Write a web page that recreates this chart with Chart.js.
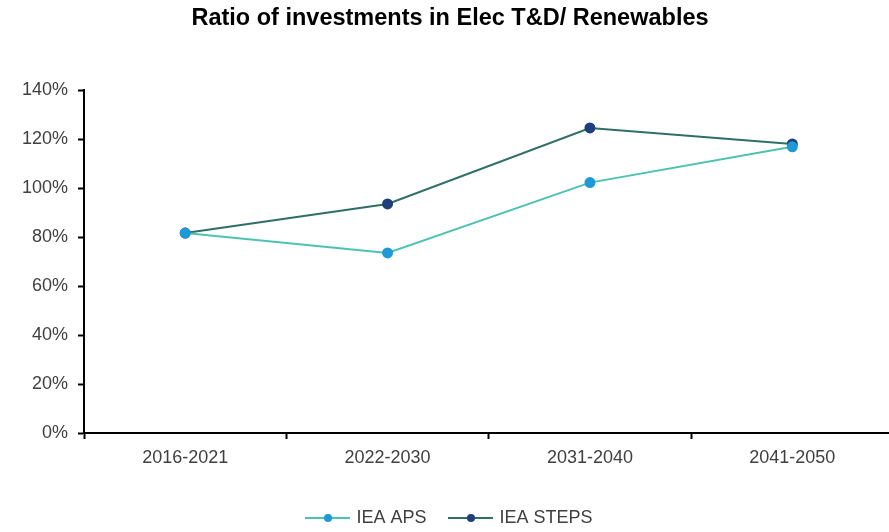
<!DOCTYPE html>
<html>
<head>
<meta charset="utf-8">
<script src="https://cdn.jsdelivr.net/npm/chart.js@4.4.1/dist/chart.umd.min.js"></script>
<style>
  html, body { margin: 0; padding: 0; background: #fff; overflow: hidden; }
  #wrap { width: 900px; height: 537px; }
</style>
</head>
<body>
<div id="wrap"><canvas id="ratioChart" width="900" height="537"></canvas></div>
<script>
const periods = ['2016-2021', '2022-2030', '2031-2040', '2041-2050'];
const apsRatio = [81.6, 73.5, 102.2, 116.8];
const stepsRatio = [81.6, 93.5, 124.5, 118.0];
const yTicks = [0, 20, 40, 60, 80, 100, 120, 140];

const apsLine = '#4cc3b1', apsDot = '#1f9ad6';
const stepsLine = '#2f6f68', stepsDot = '#1f3f7c';
const labelFont = { family: 'Liberation Sans', size: 18 };

// small line + dot swatch for the legend
function swatch(lineColor, dotColor) {
    const c = document.createElement('canvas');
    c.width = 45; c.height = 10;
    const g = c.getContext('2d');
    g.strokeStyle = lineColor; g.lineWidth = 2;
    g.beginPath(); g.moveTo(0, 5); g.lineTo(45, 5); g.stroke();
    g.fillStyle = dotColor;
    g.beginPath(); g.arc(23, 5, 4, 0, Math.PI * 2); g.fill();
    return c;
}

const ctx = document.getElementById('ratioChart').getContext('2d');
new Chart(ctx, {
    type: 'line',
    data: {
        labels: periods,
        datasets: [{
            label: 'IEA APS',
            data: apsRatio,
            borderColor: apsLine,
            backgroundColor: apsDot,
            pointBackgroundColor: apsDot,
            pointBorderColor: apsDot,
            pointRadius: 4.5,
            borderWidth: 2,
            legendSwatch: swatch(apsLine, apsDot)
        }, {
            label: 'IEA STEPS',
            data: stepsRatio,
            borderColor: stepsLine,
            backgroundColor: stepsDot,
            pointBackgroundColor: stepsDot,
            pointBorderColor: stepsDot,
            pointRadius: 4.5,
            borderWidth: 2,
            legendSwatch: swatch(stepsLine, stepsDot)
        }]
    },
    options: {
        responsive: false,
        animation: false,
        layout: { padding: 0 },
        plugins: {
            title: {
                display: true,
                text: 'Ratio of investments in Elec T&D/ Renewables',
                color: '#000',
                font: { family: 'Liberation Sans', size: 23.5, weight: 'bold' },
                padding: { top: 4, bottom: 57.8 }
            },
            legend: {
                position: 'bottom',
                labels: {
                    color: '#404040',
                    font: labelFont,
                    usePointStyle: true,
                    pointStyleWidth: 40,
                    padding: 24,
                    generateLabels: chart => chart.data.datasets.map((ds, i) => ({
                        text: ds.label,
                        pointStyle: ds.legendSwatch,
                        fillStyle: ds.backgroundColor,
                        strokeStyle: ds.borderColor,
                        lineWidth: 0,
                        datasetIndex: i,
                        fontColor: '#404040'
                    }))
                }
            },
            tooltip: { enabled: false }
        },
        scales: {
            x: {
                offset: true,
                afterFit: scale => { scale.height = 52; },
                grid: {
                    display: true,
                    drawOnChartArea: false,
                    offset: true,
                    tickLength: 6,
                    tickColor: '#000',
                    tickWidth: 2
                },
                border: { color: '#000', width: 2 },
                ticks: {
                    color: '#404040',
                    font: labelFont,
                    padding: 8,
                    maxRotation: 0
                }
            },
            y: {
                min: 0,
                max: 140,
                afterBuildTicks: scale => { scale.ticks = yTicks.map(v => ({ value: v })); },
                afterFit: scale => { scale.width = 84; },
                grid: {
                    display: true,
                    drawOnChartArea: false,
                    tickLength: 6,
                    tickColor: '#000',
                    tickWidth: 2
                },
                border: { color: '#000', width: 2 },
                ticks: {
                    color: '#404040',
                    font: labelFont,
                    padding: 10,
                    callback: v => v + '%'
                }
            }
        }
    }
});
</script>
</body>
</html>
